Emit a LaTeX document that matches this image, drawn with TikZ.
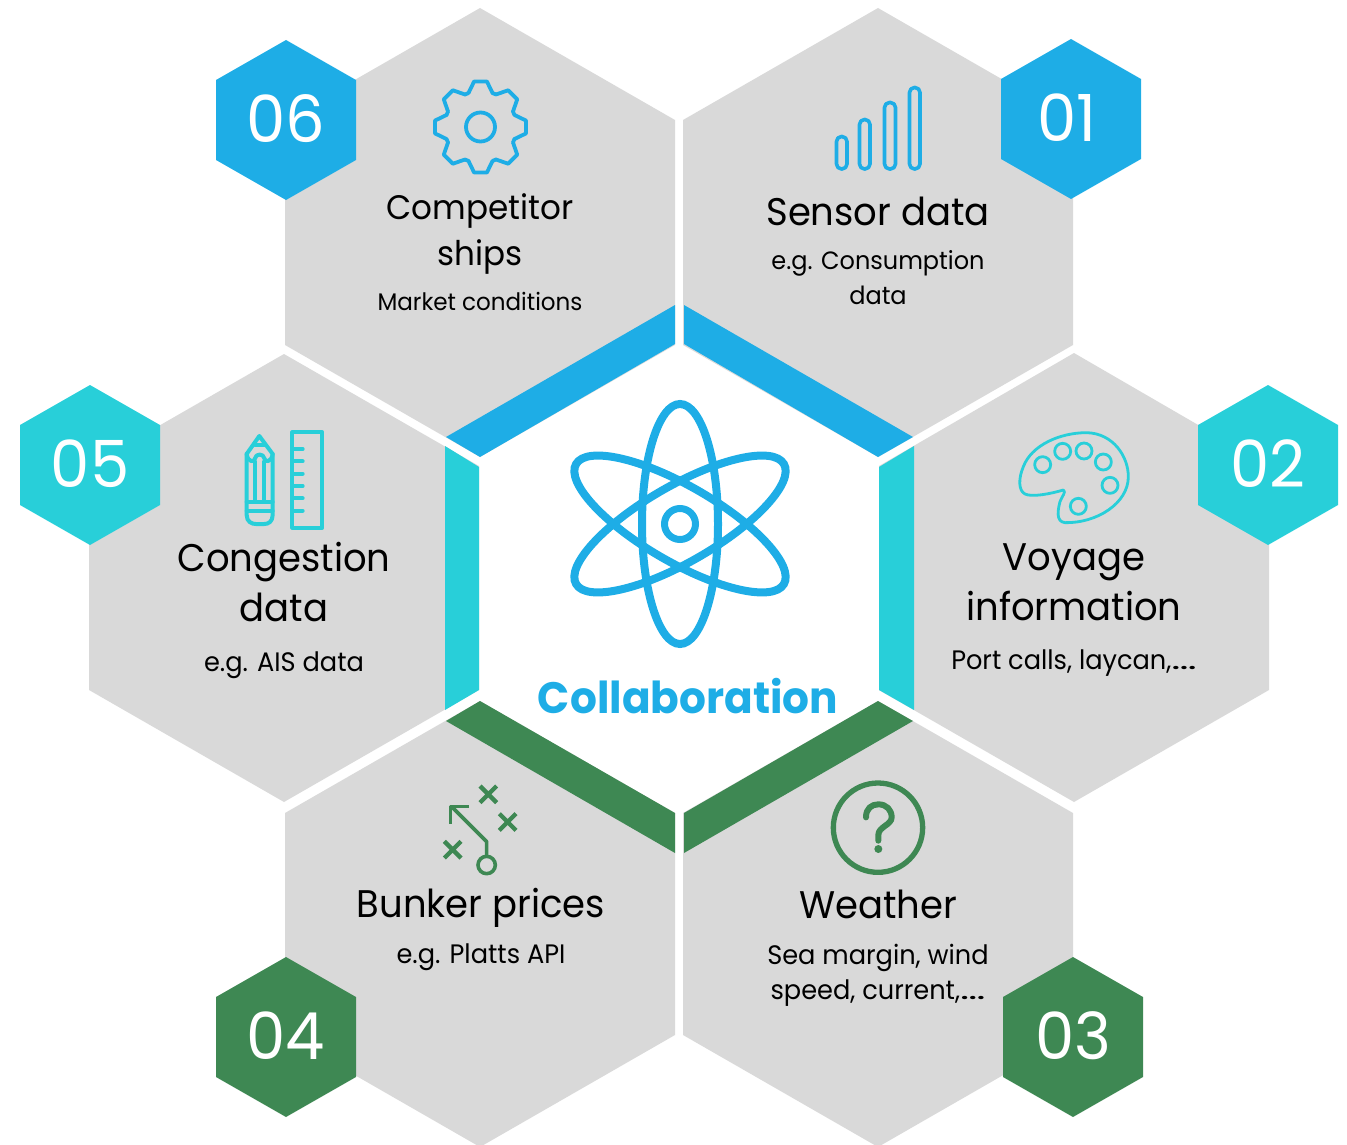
\documentclass[tikz,border=0pt]{standalone}
\usepackage{fontspec}
\usepackage{graphicx}
\setmainfont[FakeStretch=0.96]{Poppins}
\newcommand{\wdots}{\scalebox{1.7}[1]{…}}
\definecolor{cblue}{HTML}{1EADE6}
\definecolor{ccyan}{HTML}{28CFD9}
\definecolor{cgreen}{HTML}{3E8853}
\definecolor{cgray}{HTML}{D9D9D9}
\tikzset{
  hexa/.style={fill=cgray,draw=none},
  band/.style={draw=none},
  badge/.style={font=\fontsize{65}{65}\selectfont,text=white,inner sep=0pt},
  head/.style={font=\fontsize{38.5}{50}\selectfont,align=center,inner sep=0pt,text=black},
  headb/.style={font=\fontsize{34}{46}\selectfont,align=center,inner sep=0pt,text=black},
  sub/.style={font=\fontsize{25}{35}\selectfont,align=center,inner sep=0pt,text=black},
  subb/.style={font=\fontsize{26.7}{35}\selectfont,align=center,inner sep=0pt,text=black},
  icon/.style={line width=#1,line join=round,line cap=round},
  zm/.style={shift={(#1)},scale=1/3}
}
\begin{document}
\begin{tikzpicture}[x=1pt,y=-1pt]
\useasboundingbox (0,0) rectangle (1347,1145);
\begin{scope}
\clip (0,0) rectangle (1347,1145);
% grey hexagons
\fill[hexa] (480,8)--(675,120)--(675,345)--(480,457)--(285,345)--(285,120)--cycle;
\fill[hexa] (878,8)--(1073,120)--(1073,345)--(878,457)--(683,345)--(683,120)--cycle;
\fill[hexa] (284,354)--(479,466)--(479,690)--(284,802)--(89,690)--(89,466)--cycle;
\fill[hexa] (1074,353)--(1269,466)--(1269,690)--(1074,802)--(879,690)--(879,466)--cycle;
\fill[hexa] (480,701)--(675,813)--(675,1035)--(480,1147)--(285,1035)--(285,813)--cycle;
\fill[hexa] (878,701)--(1073,813)--(1073,1035)--(878,1147)--(683,1035)--(683,813)--cycle;
\end{scope}
% inner bands
\fill[cblue,band] (675,305)--(675,344)--(480,457)--(446,437)--cycle;
\fill[cblue,band] (684,305)--(684,344)--(878,457)--(913,437)--cycle;
\fill[ccyan,band] (445,446)--(479,467)--(479,690)--(445,710)--cycle;
\fill[ccyan,band] (914,446)--(879,467)--(879,690)--(914,710)--cycle;
\fill[cgreen,band] (446,721)--(480,701)--(675,813)--(675,853)--cycle;
\fill[cgreen,band] (913,721)--(878,701)--(684,813)--(684,853)--cycle;
% badges
\fill[cblue] (286,40)--(356,80)--(356,160)--(286,200)--(216,160)--(216,80)--cycle;
\fill[cblue] (1071,39)--(1141,79)--(1141,159)--(1071,199)--(1001,159)--(1001,79)--cycle;
\fill[ccyan] (90,385)--(160,425)--(160,505)--(90,545)--(20,505)--(20,425)--cycle;
\fill[ccyan] (1268,385)--(1338,425)--(1338,505)--(1268,545)--(1198,505)--(1198,425)--cycle;
\fill[cgreen] (286,957)--(356,997)--(356,1077)--(286,1117)--(216,1077)--(216,997)--cycle;
\fill[cgreen] (1073,957)--(1143,997)--(1143,1077)--(1073,1117)--(1003,1077)--(1003,997)--cycle;
\node[badge] (b06) at (286,119) {06};
\node[badge] (b01) at (1067,118) {01};
\node[badge] (b05) at (90,464) {05};
\node[badge] (b02) at (1268,464) {02};
\node[badge] (b04) at (286,1036) {04};
\node[badge] (b03) at (1073,1036) {03};
% texts
\node[headb] (t6) at (480,234) {Competitor\\ships};
\node[sub,font=\fontsize{24}{35}\selectfont] (s6) at (480,301) {Market conditions};
\node[head] (t1) at (878,211) {Sensor data};
\node[sub] (s1) at (878,278) {e.g. Consumption\\data};
\node[head] (t2) at (1074,582) {Voyage\\information};
\node[subb] (s2) at (1074,663) {Port calls, laycan,\wdots};
\node[head] (t5) at (284,582) {Congestion\\data};
\node[subb] (s5) at (284,665) {e.g. AIS data};
\node[head] (t4) at (481,908) {Bunker prices};
\node[subb] (s4) at (481,957) {e.g. Platts API};
\node[head] (t3) at (878,904) {Weather};
\node[subb] (s3) at (878,975) {Sea margin, wind\\speed, current,\wdots};
\node[inner sep=0pt,text=cblue,font=\fontsize{44}{44}\selectfont\bfseries] (coll) at (688,696) {Collaboration};
% atom
\begin{scope}[cblue,line width=8pt]
\draw (680,524) ellipse [x radius=38,y radius=120];
\draw[rotate around={60:(680,524)}] (680,524) ellipse [x radius=38,y radius=120];
\draw[rotate around={-60:(680,524)}] (680,524) ellipse [x radius=38,y radius=120];
\draw[line width=7pt] (680,524) circle [radius=15.5];
\end{scope}
% gear
\begin{scope}[shift={(480.5,127)},cblue,icon=3.8pt]
\foreach \a in {0,45,...,315}{
  \draw (\a-19.5:36)--(\a-8:46)--(\a+8:46)--(\a+19.5:36)--(\a+25.5:36);
}
\draw (0,0) circle [radius=14.5];
\end{scope}
% bars
\begin{scope}[cblue,icon=3.6pt,rounded corners=5pt]
\draw (836.5,136.5) rectangle (847,169);
\draw (859.5,119.5) rectangle (870,169);
\draw (884.5,102.5) rectangle (895.5,169);
\draw (909.5,87.5) rectangle (920,169);
\end{scope}
% palette
\begin{scope}[zm={1010,420},ccyan]
\draw[icon=2.8pt] (160,210) .. controls (120,222) and (65,232) .. (45,222) .. controls (25,212) and (25,175) .. (40,140) .. controls (65,75) and (150,38) .. (230,38) .. controls (310,40) and (355,110) .. (355,170) .. controls (355,250) and (260,310) .. (165,308) .. controls (135,305) and (145,265) .. (150,245) .. controls (155,230) and (170,215) .. (160,210) -- cycle;
\foreach \p in {(98,134),(158,94),(222,93),(280,126),(300,196),(205,259)}
  \draw[icon=2.8pt] \p circle [radius=24];
\end{scope}
% pencil and ruler
\begin{scope}[zm={235,420},ccyan,icon=4pt]
\draw (73,48)--(35,102)--(35,285) .. controls (35,305) and (50,312) .. (62,312)--(88,312) .. controls (100,312) and (113,305) .. (113,285)--(113,102)--cycle;
\draw (60,75)--(88,75);
\draw (35,102) .. controls (38,128) and (60,128) .. (60,115) .. controls (62,100) and (86,100) .. (88,115) .. controls (88,128) and (110,128) .. (113,102);
\draw (60,125)--(60,245) (88,125)--(88,245);
\draw (35,245)--(113,245) (35,272)--(113,272);
\draw (172,37) rectangle (262,323);
\foreach \y in {87,124,161,198,235,272} \draw (172,\y)--(203,\y);
\end{scope}
% play
\begin{scope}[zm={430,775},cgreen,icon=3.6pt,line cap=butt]
\draw (170,243)--(170,200)--(65,95);
\draw (117,95)--(62,95)--(62,147);
\draw (170,270) circle [radius=26];
\foreach \c in {(175,58),(233,141),(68,224)}
  \draw[line width=4.3pt] \c ++(-25,-25)--++(50,50) \c ++(25,-25)--++(-50,50);
\end{scope}
% question
\begin{scope}[zm={820,770},cgreen]
\draw[line width=5.3pt] (174,173) circle [radius=134];
\draw[icon=6pt] (138,142) .. controls (138,115) and (155,103) .. (175,103) .. controls (200,103) and (215,120) .. (215,142) .. controls (215,165) and (175,170) .. (175,195) -- (175,212);
\fill (175,237) circle [radius=12];
\end{scope}
\end{tikzpicture}
\end{document}
